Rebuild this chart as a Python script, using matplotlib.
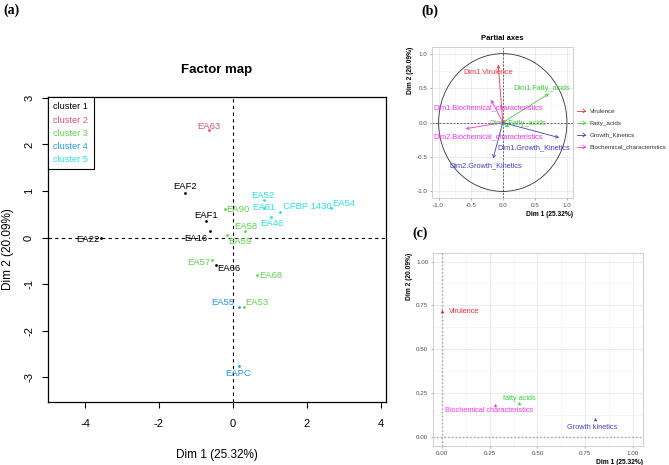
import numpy as np
import matplotlib
matplotlib.use("Agg")
import matplotlib.pyplot as plt
import matplotlib.ticker as mticker
from matplotlib.patches import Ellipse

plt.rcParams['font.family'] = ['Liberation Sans', 'DejaVu Sans']
plt.rcParams['axes.unicode_minus'] = False

# =====================================================
# DADOS - painel (a) factor map
# =====================================================

isolados = ["EA63", "EAF2", "EAF1", "EA16", "EA22", "EA66", "EA57", "EA90",
            "EA58", "EA59", "EA68", "EA53", "EA55", "EAPC", "EA52", "EA61",
            "CFBP 1430", "EA46", "EA54"]
dim1 = [-0.65, -1.29, -0.74, -0.63, -3.56, -0.46, -0.56, -0.22,
        0.32, -0.17, 0.66, 0.30, 0.16, 0.15, 0.84, 0.84,
        1.26, 1.04, 2.66]
dim2 = [2.30, 0.96, 0.36, 0.14, -0.01, -0.59, -0.49, 0.61,
        0.15, 0.05, -0.81, -1.48, -1.50, -2.76, 0.80, 0.64,
        0.55, 0.45, 0.63]
cluster = [2, 1, 1, 1, 1, 1, 3, 3,
           3, 3, 3, 3, 4, 4, 5, 5,
           5, 5, 5]
nomes_cluster = ["cluster 1", "cluster 2", "cluster 3", "cluster 4", "cluster 5"]

# =====================================================
# DADOS - painel (b) partial axes
# =====================================================

eixos_parciais = ["Dim1.Virulence", "Dim1.Fatty_acids", "Dim2.Fatty_acids",
                  "Dim1.Biochemical_characteristics", "Dim2.Biochemical_characteristics",
                  "Dim1.Growth_Kinetics", "Dim2.Growth_Kinetics"]
grupo_eixo = ["Virulence", "Fatty_acids", "Fatty_acids",
              "Biochemical_characteristics", "Biochemical_characteristics",
              "Growth_Kinetics", "Growth_Kinetics"]
eixo_x = [-0.07, 0.72, 0.10, -0.18, -0.58, 0.88, -0.15]
eixo_y = [0.84, 0.42, -0.07, 0.33, -0.09, -0.22, -0.52]
grupos = ["Virulence", "Fatty_acids", "Growth_Kinetics", "Biochemical_characteristics"]

# =====================================================
# DADOS - painel (c) groups
# =====================================================

grupos_c = ["Virulence", "fatty acids", "Biochemical characteristics", "Growth kinetics"]
grupo_c_x = [0.0, 0.403, 0.278, 0.802]
grupo_c_y = [0.718, 0.19, 0.183, 0.103]

# =====================================================
# CORES / ESTILO
# =====================================================

cores_cluster = ["black", "#DF536B", "#61D04F", "#2297E6", "#28E2E5"]
cores_grupo = {
    "Virulence": "#E8383D",
    "Fatty_acids": "#3ACF3A",
    "Growth_Kinetics": "#4040C0",
    "Biochemical_characteristics": "#EE33EE",
}
cores_c = ["#E8262A", "#3ACF3A", "#EE33EE", "#4444CC"]

# deslocamento dos rótulos (px, px, alinhamento)
desloc = {
    "EA63": (0, 4, 'center'), "EAF2": (0, 6, 'center'), "EAF1": (0, 5, 'center'),
    "EA16": (-2, -7, 'right'), "EA22": (-2, -1, 'right'), "EA66": (1, -3, 'left'),
    "EA57": (-2, -2, 'right'), "EA90": (1, 0, 'left'), "EA58": (-11, 4, 'left'),
    "EA59": (2, -6, 'left'), "EA68": (2, 0, 'left'), "EA53": (1, 4, 'left'),
    "EA55": (-5, 5, 'right'), "EAPC": (0, -7, 'center'), "EA52": (-1, 5, 'center'),
    "EA61": (0, 0, 'center'), "CFBP 1430": (3, 5, 'left'), "EA46": (0, -7, 'center'),
    "EA54": (1, 5, 'left'),
}

fig = plt.figure(figsize=(6.69, 4.65), dpi=100)
PX = 0.72  # px -> pt

# =====================================================
# PAINEL (a)
# =====================================================

ax = fig.add_axes([0.0717, 0.1355, 0.505, 0.656])
ax.set_xlim(-5.0, 4.13)
ax.set_ylim(-3.53, 3.02)

for nome, x, y, c in zip(isolados, dim1, dim2, cluster):
    cor = cores_cluster[c - 1]
    ax.plot(x, y, 'o', ms=2.0, color=cor, mec='none')
    dx, dy, ha = desloc[nome]
    ax.annotate(nome, (x, y), xytext=(dx * PX, dy * PX), textcoords='offset points',
                ha=ha, va='center', fontsize=6.8, color=cor)

ax.axhline(0, color='black', lw=0.8, ls=(0, (3, 3)))
ax.axvline(0, color='black', lw=0.8, ls=(0, (3, 3)))

ax.set_xticks([-4, -2, 0, 2, 4])
ax.set_yticks([-3, -2, -1, 0, 1, 2, 3])
ax.tick_params(labelsize=8, length=4, width=0.8, direction='out')
ax.tick_params(axis='x', pad=8)
ax.tick_params(axis='y', pad=6)
for lab in ax.get_yticklabels():
    lab.set_rotation(90)
    lab.set_va('center')
for sp in ax.spines.values():
    sp.set_linewidth(0.9)

ax.set_xlabel("Dim 1 (25.32%)", fontsize=8.5, labelpad=15)
ax.set_ylabel("Dim 2 (20.09%)", fontsize=8.5, labelpad=7)
ax.set_title("Factor map", fontsize=9.5, fontweight='bold', pad=17)

leg_handles = [plt.Line2D([], [], ls='none') for _ in nomes_cluster]
leg = ax.legend(leg_handles, nomes_cluster, loc='upper left', fontsize=6.6,
                handlelength=0, handletextpad=0, borderaxespad=0,
                fancybox=False, edgecolor='black', framealpha=1,
                labelspacing=0.45, borderpad=0.6)
leg.get_frame().set_linewidth(0.8)
for t, c in zip(leg.get_texts(), cores_cluster):
    t.set_color(c)

# =====================================================
# PAINEL (b)
# =====================================================

axb = fig.add_axes([0.646, 0.5735, 0.211, 0.326])
axb.set_xlim(-1.1, 1.1)
axb.set_ylim(-1.1, 1.1)
axb.set_xticks([-1.0, -0.5, 0.0, 0.5, 1.0])
axb.set_yticks([-1.0, -0.5, 0.0, 0.5, 1.0])
axb.xaxis.set_minor_locator(mticker.MultipleLocator(0.25))
axb.yaxis.set_minor_locator(mticker.MultipleLocator(0.25))
axb.grid(which='major', color='#E3E3E3', lw=0.5)
axb.grid(which='minor', color='#F0F0F0', lw=0.4)
axb.set_axisbelow(True)
axb.tick_params(which='both', length=0, labelsize=4.5, labelcolor='#4D4D4D', pad=2)
axb.tick_params(which='major', length=1.5, color='#B0B0B0')
axb.xaxis.set_major_formatter(mticker.FormatStrFormatter('%.1f'))
axb.yaxis.set_major_formatter(mticker.FormatStrFormatter('%.1f'))
for sp in axb.spines.values():
    sp.set_color('#C8C8C8')
    sp.set_linewidth(0.6)

axb.add_patch(Ellipse((0, 0), 2, 2, fill=False, color='#333333', lw=0.6))
axb.axhline(0, color='#333333', lw=0.5, ls=(0, (3, 2)))
axb.axvline(0, color='#333333', lw=0.5, ls=(0, (3, 2)))

rot_b = [(-0.23, 0.73), (0.61, 0.50), (0.23, -0.01), (-0.23, 0.22),
         (-0.23, -0.21), (0.49, -0.36), (-0.26, -0.63)]
for nome, g, x, y, (tx, ty) in zip(eixos_parciais, grupo_eixo, eixo_x, eixo_y, rot_b):
    cor = cores_grupo[g]
    axb.annotate("", xy=(x, y), xytext=(0, 0),
                 arrowprops=dict(arrowstyle='->', color=cor, lw=0.6,
                                 shrinkA=0, shrinkB=0, mutation_scale=5))
    axb.text(tx, ty, nome, color=cor, fontsize=5.3, ha='center', va='center')

axb.set_title("Partial axes", fontsize=5.5, fontweight='bold', pad=5)
axb.set_xlabel("Dim 1 (25.32%)", fontsize=4.8, fontweight='bold', loc='right', labelpad=2)
axb.set_ylabel("Dim 2 (20.09%)", fontsize=4.8, fontweight='bold', loc='top', labelpad=2)

# legenda manual (setas)
for i, g in enumerate(grupos):
    yf = 1 - (111 + 12 * i) / 465
    fig.add_artist(plt.Line2D([576.5 / 669, 585 / 669], [yf, yf], color=cores_grupo[g], lw=0.6))
    fig.add_artist(plt.Line2D([583 / 669, 585.5 / 669, 583 / 669],
                              [yf + 1.8 / 465, yf, yf - 1.8 / 465],
                              color=cores_grupo[g], lw=0.6))
    fig.text(590 / 669, yf, g, fontsize=4.5, color='#333333', va='center')

# =====================================================
# PAINEL (c)
# =====================================================

axc = fig.add_axes([0.6477, 0.0409, 0.314, 0.4157])
axc.set_xlim(-0.047, 1.056)
axc.set_ylim(-0.053, 1.051)
ticks_c = [0.0, 0.25, 0.5, 0.75, 1.0]
axc.set_xticks(ticks_c)
axc.set_yticks(ticks_c)
axc.xaxis.set_minor_locator(mticker.MultipleLocator(0.125))
axc.yaxis.set_minor_locator(mticker.MultipleLocator(0.125))
axc.xaxis.set_major_formatter(mticker.FormatStrFormatter('%.2f'))
axc.yaxis.set_major_formatter(mticker.FormatStrFormatter('%.2f'))
axc.grid(which='major', color='#E3E3E3', lw=0.5)
axc.grid(which='minor', color='#F0F0F0', lw=0.4)
axc.set_axisbelow(True)
axc.tick_params(which='both', length=0, labelsize=4.5, labelcolor='#4D4D4D', pad=2)
axc.tick_params(which='major', length=1.5, color='#B0B0B0')
for sp in axc.spines.values():
    sp.set_color('#C8C8C8')
    sp.set_linewidth(0.6)

axc.axhline(0, color='#A0A0A0', lw=1.0, ls=':')
axc.axvline(0, color='#A0A0A0', lw=1.0, ls=':')

rot_c = [(7, -0.5, 'left'), (0, 5, 'center'), (-6, -6, 'center'), (-3, -9, 'center')]
for nome, x, y, cor, (dx, dy, ha) in zip(grupos_c, grupo_c_x, grupo_c_y, cores_c, rot_c):
    axc.plot(x, y, '^', ms=2.5, color=cor, mec='none', clip_on=False)
    axc.annotate(nome, (x, y), xytext=(dx * PX, dy * PX), textcoords='offset points',
                 ha=ha, va='center', fontsize=5.3, color=cor)

axc.set_xlabel("Dim 1 (25.32%)", fontsize=4.8, fontweight='bold', loc='right', labelpad=2)
axc.set_ylabel("Dim 2 (20.09%)", fontsize=4.8, fontweight='bold', loc='top', labelpad=2)

# =====================================================
# LETRAS DOS PAINÉIS
# =====================================================

letra = dict(fontsize=10, fontweight='bold', family=['Liberation Serif', 'DejaVu Serif'],
             va='center')
fig.text(3 / 669, 1 - 10 / 465, "(a)", **letra)
fig.text(421 / 669, 1 - 11 / 465, "(b)", **letra)
fig.text(412 / 669, 1 - 233 / 465, "(c)", **letra)

fig.savefig("out.png", dpi=100)
plt.close(fig)
